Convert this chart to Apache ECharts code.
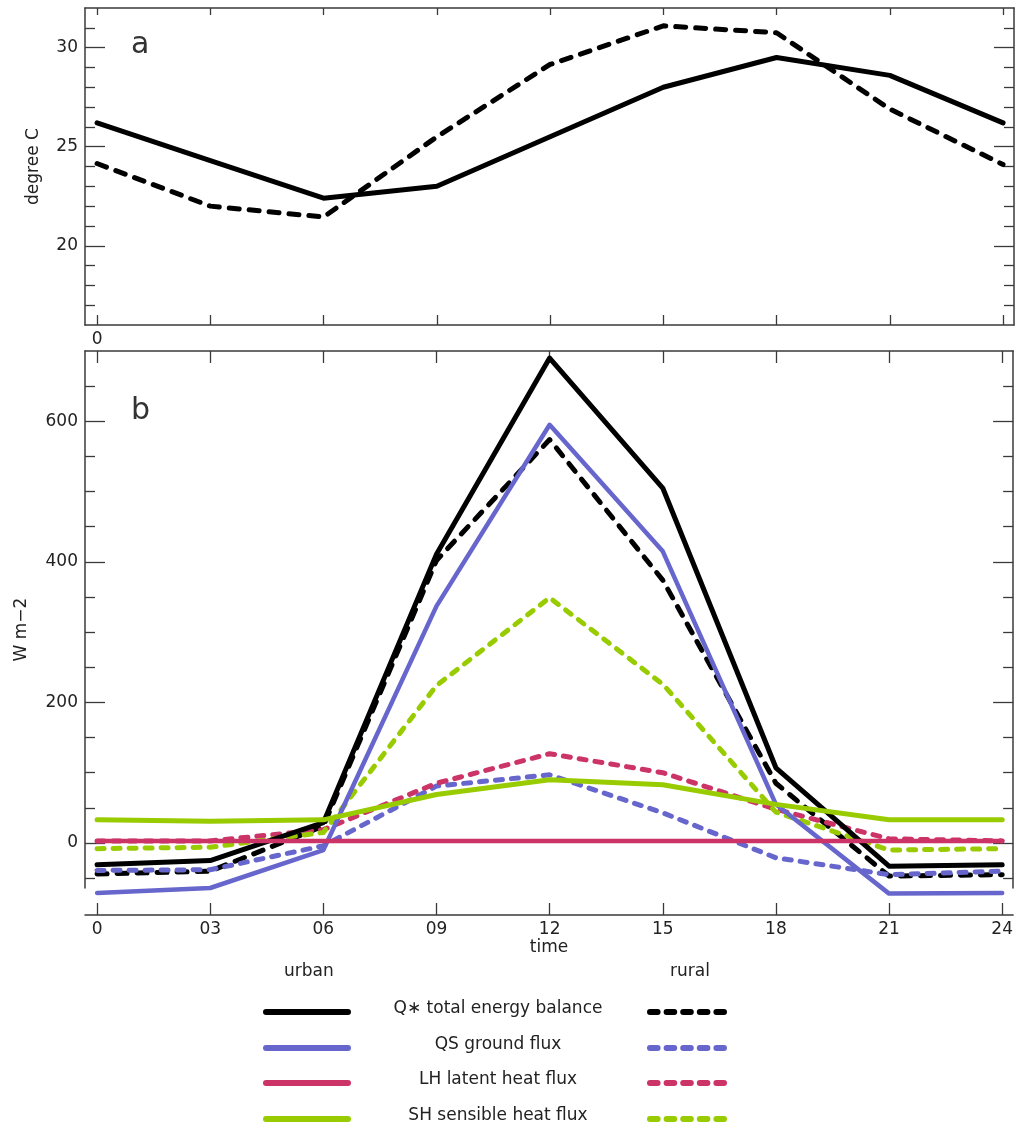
<!DOCTYPE html>
<html>
<head>
<meta charset="utf-8">
<script src="https://cdn.jsdelivr.net/npm/echarts@6/dist/echarts.min.js"></script>
<style>
  html, body { margin: 0; padding: 0; background: #ffffff; }
  #chart { width: 1016px; height: 1124px; }
</style>
</head>
<body>
<div id="chart"></div>
<script>
// Hours of the day at which the model output is sampled
const hours = [0, 3, 6, 9, 12, 15, 18, 21, 24];

// Panel a: 2 m air temperature (degree C)
const tempUrban = [26.2, 24.3, 22.4, 23.0, 25.5, 28.0, 29.5, 28.6, 26.2];
const tempRural = [24.15, 22.0, 21.45, 25.5, 29.15, 31.1, 30.75, 26.9, 24.1];

// Panel b: surface energy fluxes (W m-2)
const qUrban  = [-31, -25, 29, 411, 690, 505, 107, -33, -31];
const qRural  = [-44, -40, 24, 402, 574, 374, 85, -47, -45];
const qsUrban = [-71, -64, -10, 337, 595, 415, 55, -72, -71];
const qsRural = [-39, -38, -4, 81, 97, 43, -21, -45, -40];
const lhUrban = [3, 3, 3, 3, 3, 3, 3, 3, 3];
const lhRural = [3, 3, 19, 85, 127, 100, 48, 6, 3];
const shUrban = [33, 31, 33, 69, 90, 83, 55, 33, 33];
const shRural = [-8, -6, 15, 224, 349, 226, 44, -10, -8];

// Tick positions and labels
const tickHours = [0, 3, 6, 9, 12, 15, 18, 21, 24];
const hourLabels = ['0', '03', '06', '09', '12', '15', '18', '21', '24'];
const tempMajor = [20, 25, 30];
const tempMinor = [17, 18, 19, 21, 22, 23, 24, 26, 27, 28, 29, 31];
const fluxMajor = [0, 200, 400, 600];
const fluxMinor = [-50, 50, 100, 150, 250, 300, 350, 450, 500, 550, 650];

// Legend entries
const fluxNames = ['Q\u2217 total energy balance', 'QS ground flux', 'LH latent heat flux', 'SH sensible heat flux'];
const fluxColors = ['#000000', '#6666cc', '#cc3366', '#99cc00'];

const FONT = 'DejaVu Sans';
const TXT = '#222222';
const AXC = '#3a3a3a';

const chart = echarts.init(document.getElementById('chart'), null, { renderer: 'canvas' });

function pairs(vals) { return hours.map((h, i) => [h, vals[i]]); }

function xAx(grid, pos, tickLen, opts) {
  return Object.assign({
    type: 'value', gridIndex: grid, position: pos, min: -0.32, max: 24.29,
    axisLine: { show: true, onZero: false, lineStyle: { color: AXC, width: 1.5 } },
    axisTick: { show: true, inside: true, length: tickLen, customValues: tickHours, lineStyle: { color: AXC, width: 1.3 } },
    axisLabel: { show: false },
    splitLine: { show: false }
  }, opts || {});
}

function yAx(grid, pos, min, max, ticks, tickLen, showLine, opts) {
  return Object.assign({
    type: 'value', gridIndex: grid, position: pos, offset: 0, min: min, max: max,
    axisLine: { show: showLine, onZero: false, lineStyle: { color: AXC, width: 1.5 } },
    axisTick: { show: true, inside: true, length: tickLen, customValues: ticks, lineStyle: { color: AXC, width: 1.3 } },
    axisLabel: { show: false },
    splitLine: { show: false }
  }, opts || {});
}

const labelStyle = { fontFamily: FONT, fontSize: 17, color: TXT };

function lineSeries(name, xi, yi, vals, color, width, dashed, dash) {
  return {
    name: name, type: 'line', xAxisIndex: xi, yAxisIndex: yi,
    data: pairs(vals), showSymbol: false, symbol: 'none', silent: true,
    clip: false,
    lineStyle: {
      color: color, width: width,
      type: dashed ? dash : 'solid',
      cap: 'round', join: 'round'
    }
  };
}

const dashBlack = [10, 10];
const dashColor = [7, 9];

// Legend drawn below the lower panel
const legendRows = [1012, 1048, 1083, 1119];
const legendGraphics = [
  { type: 'text', left: 306 - 22, top: 963, style: { text: 'urban', font: '17px "' + FONT + '"', fill: TXT } },
  { type: 'text', left: 690 - 20, top: 963, style: { text: 'rural', font: '17px "' + FONT + '"', fill: TXT } }
];
fluxNames.forEach((nm, i) => {
  const y = legendRows[i];
  legendGraphics.push({
    type: 'line', shape: { x1: 266, y1: y, x2: 348, y2: y },
    style: { stroke: fluxColors[i], lineWidth: 6, lineCap: 'round' }
  });
  legendGraphics.push({
    type: 'line', shape: { x1: 650, y1: y, x2: 728, y2: y },
    style: { stroke: fluxColors[i], lineWidth: 6, lineCap: 'round', lineDash: [7.6, 9] }
  });
  legendGraphics.push({
    type: 'text', x: 498, y: y - 3,
    style: { text: nm, font: '17px "' + FONT + '"', fill: TXT, textAlign: 'center', textVerticalAlign: 'middle' }
  });
});

const option = {
  animation: false,
  backgroundColor: '#ffffff',
  grid: [
    { left: 85, right: 2, top: 8, height: 317 },
    { left: 85, right: 2, top: 351, height: 537 }
  ],
  xAxis: [
    xAx(0, 'bottom', 10, {
      axisLabel: { show: true, customValues: [0], margin: 6, formatter: () => '0', fontFamily: FONT, fontSize: 17, color: TXT }
    }),
    xAx(0, 'top', 7),
    xAx(1, 'bottom', 12, {
      offset: 27,
      name: 'time', nameLocation: 'middle', nameGap: 22,
      nameTextStyle: { fontFamily: FONT, fontSize: 17, color: TXT },
      axisLabel: {
        show: true, customValues: tickHours, margin: 6,
        formatter: v => hourLabels[tickHours.indexOf(Math.round(v))],
        fontFamily: FONT, fontSize: 17, color: TXT
      }
    }),
    xAx(1, 'top', 12)
  ],
  yAxis: [
    yAx(0, 'left', 16, 32, tempMajor, 20, true, {
      name: 'degree C', nameLocation: 'middle', nameGap: 43, nameRotate: 90,
      nameTextStyle: { fontFamily: FONT, fontSize: 17, color: TXT },
      axisLabel: Object.assign({ show: true, customValues: tempMajor, margin: 7 }, labelStyle)
    }),
    yAx(0, 'left', 16, 32, tempMinor, 10, false),
    yAx(0, 'right', 16, 32, tempMajor, 20, true),
    yAx(0, 'right', 16, 32, tempMinor, 10, false),
    yAx(1, 'left', -64, 700, fluxMajor, 20, true, {
      name: 'W m\u22122', nameLocation: 'middle', nameGap: 55, nameRotate: 90,
      nameTextStyle: { fontFamily: FONT, fontSize: 17, color: TXT, padding: [0, 20, 0, 0] },
      axisLabel: Object.assign({ show: true, customValues: fluxMajor, margin: 7 }, labelStyle)
    }),
    yAx(1, 'left', -64, 700, fluxMinor, 10, false),
    yAx(1, 'right', -64, 700, fluxMajor, 20, true),
    yAx(1, 'right', -64, 700, fluxMinor, 10, false)
  ],
  graphic: [
    { type: 'text', left: 131, top: 30, style: { text: 'a', font: '30px "' + FONT + '"', fill: '#333' } },
    { type: 'text', left: 131, top: 396, style: { text: 'b', font: '30px "' + FONT + '"', fill: '#333' } }
  ].concat(legendGraphics),
  series: [
    // Panel a
    lineSeries('rural temperature', 0, 0, tempRural, '#000000', 5, true, dashBlack),
    lineSeries('urban temperature', 0, 0, tempUrban, '#000000', 5, false),
    // Panel b: rural (dashed) beneath urban (solid)
    lineSeries('rural Q*', 2, 4, qRural, fluxColors[0], 5, true, dashBlack),
    lineSeries('rural QS', 2, 4, qsRural, fluxColors[1], 5, true, dashColor),
    lineSeries('rural LH', 2, 4, lhRural, fluxColors[2], 5, true, dashColor),
    lineSeries('rural SH', 2, 4, shRural, fluxColors[3], 5, true, dashColor),
    lineSeries('urban Q*', 2, 4, qUrban, fluxColors[0], 5, false),
    lineSeries('urban QS', 2, 4, qsUrban, fluxColors[1], 4.5, false),
    lineSeries('urban LH', 2, 4, lhUrban, fluxColors[2], 4.5, false),
    lineSeries('urban SH', 2, 4, shUrban, fluxColors[3], 5, false)
  ]
};

chart.setOption(option);
</script>
</body>
</html>
